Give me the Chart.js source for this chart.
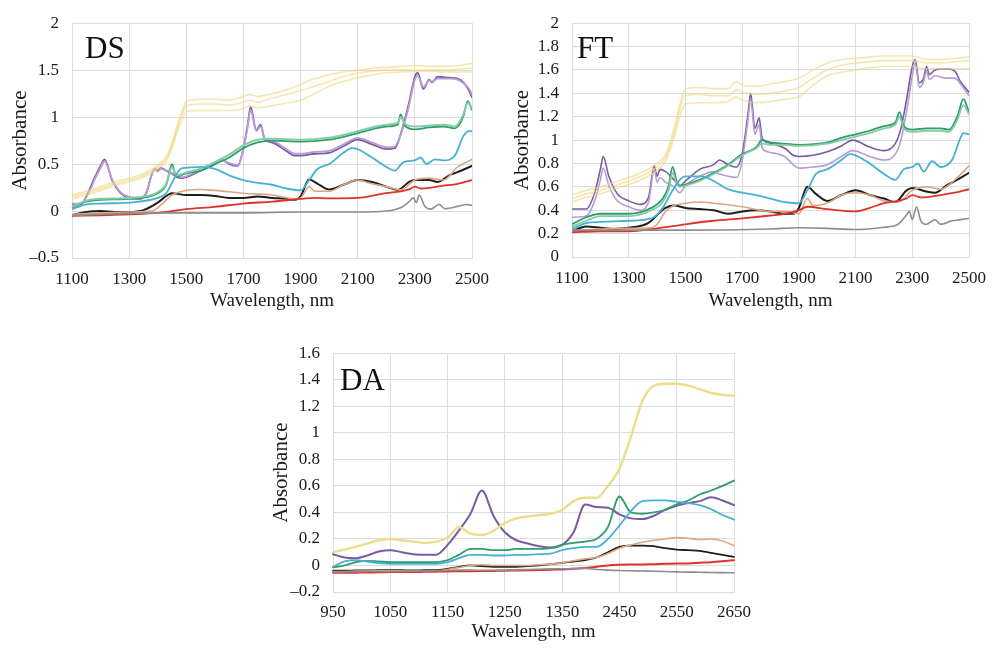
<!DOCTYPE html>
<html>
<head>
<meta charset="utf-8">
<script src="https://cdn.jsdelivr.net/npm/chart.js@4.4.1/dist/chart.umd.min.js"></script>
<style>
  html, body { margin: 0; padding: 0; background: #fff; }
  body { width: 997px; height: 648px; position: relative; overflow: hidden; }
  .panel { position: absolute; }
  .tag { position: absolute; font-family: 'Liberation Serif', serif; font-size: 31px; line-height: 31px; color: #111; }
</style>
</head>
<body>
<div class="panel" style="left:0;top:0;width:500px;height:315px"><canvas id="dsChart"></canvas></div>
<div class="panel" style="left:500px;top:0;width:497px;height:315px"><canvas id="ftChart"></canvas></div>
<div class="panel" style="left:261px;top:330px;width:500px;height:316px"><canvas id="daChart"></canvas></div>
<div class="tag" style="left:85px;top:32px">DS</div>
<div class="tag" style="left:577px;top:32px">FT</div>
<div class="tag" style="left:340px;top:364px">DA</div>
<script>
// ---- DS panel ----
const dsYellowNm = [1100,1150,1200,1250,1300,1350,1400,1430,1450,1470,1490,1500,1550,1600,1650,1700,1720,1750,1800,1850,1900,1950,2000,2050,2100,2150,2200,2250,2300,2350,2400,2450,2500];
const dsYellowA = [0.17,0.21,0.26,0.31,0.35,0.4,0.49,0.58,0.72,0.93,1.1,1.17,1.19,1.19,1.18,1.22,1.24,1.22,1.25,1.29,1.35,1.41,1.45,1.48,1.5,1.52,1.53,1.54,1.55,1.54,1.54,1.55,1.57];
const dsYellowB = [0.15,0.19,0.24,0.29,0.33,0.38,0.47,0.56,0.7,0.9,1.06,1.12,1.14,1.14,1.13,1.16,1.18,1.16,1.2,1.24,1.28,1.33,1.38,1.43,1.47,1.49,1.5,1.5,1.5,1.5,1.5,1.51,1.52];
const dsYellowC = [0.13,0.17,0.22,0.27,0.31,0.36,0.45,0.53,0.67,0.86,1.0,1.06,1.07,1.07,1.07,1.09,1.12,1.1,1.12,1.15,1.18,1.25,1.33,1.38,1.42,1.45,1.47,1.48,1.49,1.49,1.48,1.48,1.48];

const dsPurpleNm = [1100,1130,1160,1180,1200,1214,1240,1270,1300,1340,1360,1380,1390,1400,1410,1430,1460,1480,1500,1550,1600,1620,1650,1680,1700,1715,1725,1745,1760,1775,1800,1850,1880,1900,1950,2000,2050,2100,2150,2200,2230,2260,2280,2300,2310,2330,2350,2360,2380,2420,2450,2470,2490,2500];
const dsPurple = [0.07,0.07,0.22,0.36,0.48,0.55,0.33,0.19,0.14,0.13,0.19,0.4,0.45,0.43,0.46,0.43,0.38,0.35,0.36,0.43,0.5,0.55,0.5,0.48,0.67,0.92,1.11,0.86,0.92,0.76,0.73,0.64,0.59,0.59,0.61,0.62,0.69,0.76,0.71,0.66,0.67,0.92,1.16,1.43,1.47,1.3,1.4,1.37,1.43,1.42,1.41,1.37,1.28,1.21];
const dsPurpleLt = [0.08,0.08,0.2,0.34,0.46,0.53,0.34,0.2,0.15,0.14,0.2,0.39,0.44,0.42,0.45,0.43,0.39,0.36,0.37,0.44,0.51,0.55,0.51,0.49,0.66,0.9,1.08,0.85,0.9,0.77,0.75,0.66,0.61,0.61,0.63,0.64,0.71,0.78,0.73,0.68,0.69,0.9,1.13,1.4,1.44,1.32,1.39,1.38,1.41,1.41,1.4,1.36,1.3,1.24];

const dsGreenNm = [1100,1150,1200,1300,1400,1430,1450,1465,1480,1500,1550,1600,1650,1700,1750,1800,1900,2000,2050,2100,2150,2200,2240,2250,2265,2300,2350,2400,2440,2470,2485,2500];
const dsGreen = [0.035,0.1,0.12,0.13,0.19,0.28,0.5,0.36,0.38,0.4,0.43,0.5,0.57,0.67,0.73,0.75,0.74,0.76,0.79,0.83,0.87,0.9,0.92,1.03,0.91,0.87,0.89,0.9,0.88,1.01,1.17,1.08];
const dsGreenLt = [0.045,0.11,0.13,0.14,0.2,0.29,0.47,0.38,0.39,0.41,0.45,0.52,0.6,0.7,0.76,0.77,0.76,0.78,0.81,0.85,0.89,0.92,0.94,1.0,0.93,0.9,0.91,0.92,0.9,1.03,1.15,1.1];

const dsCyanNm = [1100,1150,1200,1300,1400,1430,1460,1480,1500,1550,1600,1650,1700,1750,1800,1850,1900,1930,1960,2000,2050,2080,2100,2150,2200,2230,2260,2300,2320,2340,2370,2400,2440,2470,2490,2500];
const dsCyan = [0.02,0.07,0.08,0.09,0.14,0.19,0.36,0.45,0.46,0.47,0.45,0.38,0.33,0.3,0.28,0.24,0.22,0.33,0.45,0.5,0.62,0.67,0.66,0.57,0.47,0.43,0.52,0.54,0.57,0.5,0.55,0.54,0.59,0.8,0.85,0.85];

const dsBlackNm = [1100,1150,1200,1250,1300,1350,1400,1430,1450,1500,1550,1600,1650,1700,1750,1800,1850,1880,1900,1930,1960,2000,2050,2100,2150,2200,2240,2280,2300,2350,2380,2420,2450,2500];
const dsBlack = [-0.045,-0.01,0.0,-0.01,-0.01,0.01,0.09,0.16,0.19,0.17,0.17,0.16,0.14,0.14,0.155,0.14,0.13,0.12,0.155,0.335,0.29,0.23,0.28,0.33,0.31,0.26,0.225,0.31,0.33,0.33,0.31,0.38,0.415,0.48];

const dsTanNm = [1100,1200,1300,1380,1420,1450,1500,1550,1600,1700,1800,1880,1900,1930,1950,2000,2050,2100,2150,2200,2250,2300,2350,2400,2450,2500];
const dsTan = [-0.035,-0.02,-0.01,0.0,0.09,0.17,0.22,0.23,0.22,0.19,0.17,0.13,0.14,0.26,0.21,0.21,0.28,0.33,0.29,0.26,0.225,0.33,0.35,0.33,0.47,0.55];

const dsRedNm = [1100,1200,1300,1400,1500,1600,1700,1800,1900,1950,2000,2100,2200,2250,2280,2300,2320,2400,2450,2500];
const dsRed = [-0.05,-0.045,-0.035,-0.02,0.02,0.045,0.08,0.1,0.13,0.14,0.135,0.14,0.19,0.21,0.23,0.26,0.24,0.27,0.29,0.33];

const dsGrayNm = [1100,1300,1500,1700,1900,2100,2200,2250,2280,2295,2305,2315,2335,2355,2385,2405,2450,2480,2500];
const dsGray = [-0.045,-0.025,-0.02,-0.02,-0.01,-0.01,0.0,0.035,0.1,0.14,0.09,0.17,0.05,0.02,0.07,0.025,0.05,0.07,0.06];

// ---- FT panel ----
const ftYellowNm = [1100,1150,1200,1250,1300,1350,1400,1430,1460,1480,1500,1550,1600,1650,1680,1700,1750,1800,1850,1900,1950,2000,2050,2100,2150,2200,2250,2300,2350,2400,2450,2500];
const ftYellowA = [0.53,0.57,0.6,0.64,0.68,0.73,0.8,0.88,1.1,1.3,1.44,1.45,1.44,1.44,1.5,1.47,1.46,1.48,1.5,1.53,1.6,1.66,1.69,1.7,1.71,1.72,1.72,1.72,1.69,1.69,1.7,1.71];
const ftYellowB = [0.5,0.54,0.57,0.61,0.65,0.7,0.77,0.85,1.06,1.26,1.38,1.39,1.38,1.38,1.43,1.41,1.39,1.4,1.42,1.45,1.53,1.6,1.64,1.66,1.67,1.68,1.68,1.68,1.66,1.66,1.67,1.68];
const ftYellowC = [0.47,0.51,0.54,0.58,0.62,0.67,0.74,0.82,1.02,1.2,1.31,1.32,1.32,1.33,1.37,1.34,1.32,1.33,1.35,1.37,1.47,1.55,1.58,1.6,1.62,1.63,1.63,1.63,1.61,1.61,1.61,1.61];

const ftPurpleNm = [1100,1150,1180,1200,1210,1230,1260,1300,1340,1370,1390,1400,1410,1430,1460,1480,1500,1550,1600,1620,1650,1680,1700,1720,1730,1745,1760,1770,1790,1850,1880,1900,1950,2000,2050,2090,2150,2200,2240,2260,2280,2300,2310,2325,2340,2350,2360,2380,2420,2450,2470,2500];
const ftPurple = [0.41,0.41,0.55,0.75,0.86,0.69,0.54,0.48,0.45,0.51,0.78,0.69,0.75,0.73,0.66,0.61,0.65,0.75,0.79,0.83,0.79,0.77,0.88,1.21,1.4,1.1,1.19,1.02,0.98,0.93,0.87,0.86,0.87,0.9,0.95,1.0,0.94,0.91,0.97,1.1,1.35,1.63,1.69,1.49,1.53,1.63,1.56,1.6,1.61,1.59,1.5,1.41];
const ftPurpleLt = [0.34,0.35,0.48,0.66,0.76,0.61,0.48,0.43,0.4,0.47,0.75,0.64,0.68,0.64,0.6,0.55,0.61,0.69,0.73,0.71,0.69,0.68,0.82,1.16,1.35,1.05,1.13,0.94,0.9,0.86,0.79,0.76,0.77,0.79,0.86,0.91,0.86,0.83,0.88,1.0,1.25,1.55,1.66,1.45,1.5,1.59,1.52,1.55,1.53,1.53,1.48,1.38];

const ftGreenNm = [1100,1150,1200,1300,1380,1420,1440,1455,1470,1480,1500,1550,1600,1650,1700,1750,1770,1800,1850,1900,2000,2050,2100,2150,2200,2240,2255,2270,2300,2350,2400,2430,2460,2480,2500];
const ftGreen = [0.28,0.34,0.37,0.37,0.42,0.5,0.6,0.77,0.64,0.61,0.62,0.66,0.72,0.79,0.88,0.94,1.0,0.98,0.97,0.96,0.98,1.02,1.05,1.08,1.12,1.15,1.24,1.12,1.09,1.1,1.1,1.09,1.21,1.35,1.24];
const ftGreenLt = [0.26,0.31,0.35,0.35,0.4,0.47,0.57,0.72,0.62,0.6,0.61,0.65,0.71,0.78,0.87,0.93,0.97,0.96,0.96,0.95,0.97,1.0,1.03,1.06,1.1,1.13,1.2,1.1,1.07,1.08,1.08,1.07,1.18,1.3,1.22];

const ftCyanNm = [1100,1150,1200,1300,1380,1420,1450,1480,1500,1560,1600,1650,1700,1750,1800,1850,1900,1930,1960,2000,2050,2080,2100,2150,2200,2240,2270,2300,2320,2340,2370,2400,2440,2470,2480,2500];
const ftCyan = [0.24,0.29,0.3,0.31,0.33,0.42,0.55,0.66,0.69,0.69,0.65,0.58,0.55,0.53,0.5,0.47,0.46,0.57,0.71,0.75,0.83,0.88,0.87,0.8,0.71,0.66,0.75,0.77,0.8,0.73,0.82,0.77,0.83,1.02,1.06,1.05];

const ftBlackNm = [1100,1150,1200,1250,1300,1360,1380,1400,1430,1460,1500,1550,1600,1650,1700,1750,1800,1850,1880,1900,1930,1960,2000,2050,2100,2150,2200,2240,2280,2300,2350,2380,2420,2450,2500];
const ftBlack = [0.22,0.26,0.25,0.24,0.25,0.28,0.31,0.36,0.42,0.44,0.42,0.41,0.4,0.37,0.39,0.4,0.39,0.37,0.37,0.42,0.6,0.54,0.48,0.53,0.57,0.53,0.5,0.47,0.57,0.59,0.56,0.55,0.61,0.65,0.72];

const ftTanNm = [1100,1200,1300,1380,1400,1430,1460,1500,1550,1600,1700,1800,1850,1900,1930,1950,2000,2050,2100,2150,2200,2250,2300,2350,2400,2450,2500];
const ftTan = [0.22,0.24,0.245,0.25,0.28,0.39,0.44,0.46,0.47,0.46,0.43,0.39,0.39,0.37,0.5,0.44,0.46,0.53,0.55,0.53,0.48,0.47,0.57,0.6,0.58,0.66,0.78];

const ftRedNm = [1100,1200,1300,1400,1500,1600,1700,1800,1850,1900,1930,2000,2100,2150,2200,2250,2280,2300,2330,2400,2450,2500];
const ftRed = [0.21,0.22,0.22,0.245,0.28,0.31,0.33,0.355,0.37,0.4,0.43,0.41,0.39,0.42,0.46,0.48,0.5,0.53,0.51,0.53,0.55,0.58];

const ftGrayNm = [1100,1300,1500,1800,1900,2000,2100,2200,2250,2280,2290,2300,2315,2330,2350,2380,2400,2440,2470,2500];
const ftGray = [0.23,0.23,0.23,0.24,0.25,0.245,0.235,0.255,0.28,0.36,0.39,0.32,0.43,0.31,0.28,0.32,0.28,0.31,0.32,0.33];

// ---- DA panel (category axis) ----
const daNm = [950,970,990,1010,1030,1050,1070,1090,1110,1130,1150,1170,1190,1210,1230,1250,1270,1290,1310,1330,1350,1370,1390,1410,1430,2450,2470,2490,2510,2530,2550,2570,2590,2610,2630,2650];
const daYellow = [0.10,0.12,0.14,0.165,0.19,0.20,0.19,0.18,0.17,0.18,0.21,0.29,0.24,0.23,0.26,0.32,0.355,0.37,0.38,0.39,0.42,0.485,0.51,0.51,0.60,0.73,0.97,1.24,1.355,1.37,1.37,1.355,1.33,1.30,1.285,1.28];
const daPurple = [0.085,0.06,0.055,0.075,0.105,0.115,0.10,0.085,0.08,0.08,0.155,0.265,0.39,0.565,0.375,0.25,0.19,0.165,0.145,0.135,0.155,0.25,0.46,0.44,0.435,0.385,0.355,0.35,0.375,0.42,0.45,0.47,0.485,0.515,0.49,0.455];
const daGreen = [-0.015,0.0,0.025,0.035,0.03,0.025,0.025,0.025,0.025,0.025,0.04,0.08,0.125,0.125,0.115,0.115,0.125,0.125,0.125,0.13,0.155,0.17,0.18,0.2,0.29,0.52,0.4,0.39,0.4,0.42,0.46,0.49,0.535,0.565,0.6,0.64];
const daCyan = [-0.01,0.03,0.04,0.03,0.017,0.012,0.012,0.012,0.012,0.012,0.025,0.055,0.08,0.08,0.075,0.075,0.08,0.08,0.085,0.09,0.115,0.13,0.14,0.14,0.2,0.3,0.41,0.485,0.49,0.49,0.48,0.47,0.455,0.425,0.38,0.345];
const daTan = [-0.045,-0.045,-0.043,-0.042,-0.041,-0.04,-0.041,-0.042,-0.041,-0.04,-0.03,-0.015,0.0,0.005,0.0,0.0,0.0,0.0,0.005,0.01,0.02,0.035,0.05,0.06,0.09,0.13,0.155,0.175,0.19,0.2,0.21,0.205,0.195,0.2,0.185,0.15];
const daBlack = [-0.04,-0.04,-0.038,-0.038,-0.036,-0.035,-0.036,-0.037,-0.036,-0.035,-0.025,-0.01,0.0,-0.005,-0.01,-0.01,-0.01,-0.005,0.0,0.01,0.02,0.03,0.04,0.06,0.1,0.14,0.15,0.15,0.145,0.13,0.12,0.115,0.11,0.095,0.08,0.065];
const daRed = [-0.055,-0.055,-0.054,-0.053,-0.052,-0.05,-0.05,-0.05,-0.048,-0.047,-0.045,-0.044,-0.043,-0.042,-0.041,-0.04,-0.038,-0.036,-0.035,-0.032,-0.03,-0.025,-0.02,-0.01,0.0,0.005,0.007,0.008,0.01,0.012,0.014,0.015,0.02,0.025,0.032,0.04];
const daGray = [-0.05,-0.048,-0.047,-0.046,-0.045,-0.045,-0.044,-0.043,-0.042,-0.04,-0.038,-0.035,-0.035,-0.036,-0.036,-0.035,-0.033,-0.03,-0.028,-0.026,-0.025,-0.024,-0.022,-0.03,-0.035,-0.038,-0.04,-0.042,-0.044,-0.046,-0.048,-0.05,-0.051,-0.053,-0.054,-0.055];

const C = {
    yellow: 'rgba(238, 214, 125, 0.6)',
    yellowDA: '#eedc8a',
    purple: '#7b5aa5',
    purpleLt: '#b79dd3',
    green: '#2f9d6c',
    greenLt: '#84cca2',
    cyan: '#45b2d5',
    tan: '#dba783',
    black: '#1e1e1e',
    red: '#df322d',
    gray: '#8d8d8d'
};
const SERIF = "'Liberation Serif', 'Times New Roman', serif";
const GRID = '#dcdcdc';

function xy(nm, ab) {
    return nm.map((x, i) => ({ x: x, y: ab[i] }));
}

function line(data, color, width) {
    return { data: data, borderColor: color, borderWidth: width, pointRadius: 0, fill: false };
}

function numLabel(v) {
    return String(Math.round(v * 10) / 10).replace('-', '\u2013');
}

function buildOptions(p) {
    return {
        responsive: true,
        maintainAspectRatio: false,
        animation: false,
        layout: { padding: { top: p.top, right: p.right, left: 0, bottom: 0 } },
        plugins: { legend: { display: false }, tooltip: { enabled: false } },
        elements: { line: { cubicInterpolationMode: 'monotone', borderJoinStyle: 'round', borderCapStyle: 'round' } },
        scales: {
            x: Object.assign({
                grid: { color: GRID, drawTicks: false },
                border: { color: GRID },
                title: { display: true, text: 'Wavelength, nm', color: '#1a1a1a', font: { family: SERIF, size: 19 }, padding: { top: 0, bottom: 3 } },
                afterFit: s => { s.height = p.xh; }
            }, p.x),
            y: {
                min: p.ymin, max: p.ymax,
                grid: { color: GRID, drawTicks: false },
                border: { color: GRID },
                ticks: { stepSize: p.ystep, autoSkip: false, padding: 13, color: '#1a1a1a', font: { family: SERIF, size: 17 }, callback: v => numLabel(v) },
                title: { display: true, text: 'Absorbance', color: '#1a1a1a', font: { family: SERIF, size: 21 }, padding: { top: p.tpad, bottom: 0 } },
                afterFit: s => { s.width = 72; }
            }
        }
    };
}

function wlAxis() {
    return {
        type: 'linear', min: 1100, max: 2500,
        ticks: { stepSize: 200, autoSkip: false, padding: 11, maxRotation: 0, color: '#1a1a1a', font: { family: SERIF, size: 17 }, callback: v => String(v) }
    };
}

new Chart(document.getElementById('dsChart'), {
    type: 'line',
    data: {
        datasets: [
            line(xy(dsYellowNm, dsYellowA), C.yellow, 1.6),
            line(xy(dsYellowNm, dsYellowB), C.yellow, 1.6),
            line(xy(dsYellowNm, dsYellowC), C.yellow, 1.6),
            line(xy(dsGrayNm, dsGray), C.gray, 1.6),
            line(xy(dsRedNm, dsRed), C.red, 1.8),
            line(xy(dsTanNm, dsTan), C.tan, 1.6),
            line(xy(dsCyanNm, dsCyan), C.cyan, 1.8),
            line(xy(dsGreenNm, dsGreenLt), C.greenLt, 2),
            line(xy(dsGreenNm, dsGreen), C.green, 1.8),
            line(xy(dsPurpleNm, dsPurpleLt), C.purpleLt, 1.8),
            line(xy(dsPurpleNm, dsPurple), C.purple, 1.8),
            line(xy(dsBlackNm, dsBlack), C.black, 2)
        ]
    },
    options: buildOptions({ top: 17, right: 25, xh: 57, ymin: -0.5, ymax: 2, ystep: 0.5, tpad: 8, x: wlAxis() })
});

new Chart(document.getElementById('ftChart'), {
    type: 'line',
    data: {
        datasets: [
            line(xy(ftYellowNm, ftYellowA), C.yellow, 1.6),
            line(xy(ftYellowNm, ftYellowB), C.yellow, 1.6),
            line(xy(ftYellowNm, ftYellowC), C.yellow, 1.6),
            line(xy(ftGrayNm, ftGray), C.gray, 1.6),
            line(xy(ftRedNm, ftRed), C.red, 1.8),
            line(xy(ftTanNm, ftTan), C.tan, 1.6),
            line(xy(ftCyanNm, ftCyan), C.cyan, 1.8),
            line(xy(ftGreenNm, ftGreenLt), C.greenLt, 1.8),
            line(xy(ftGreenNm, ftGreen), C.green, 1.8),
            line(xy(ftPurpleNm, ftPurpleLt), C.purpleLt, 1.6),
            line(xy(ftPurpleNm, ftPurple), C.purple, 1.6),
            line(xy(ftBlackNm, ftBlack), C.black, 2)
        ]
    },
    options: buildOptions({ top: 15, right: 20, xh: 58, ymin: 0, ymax: 2, ystep: 0.2, tpad: 10, x: wlAxis() })
});

new Chart(document.getElementById('daChart'), {
    type: 'line',
    data: {
        labels: daNm,
        datasets: [
            line(daYellow, C.yellowDA, 2.4),
            line(daGray, C.gray, 1.6),
            line(daRed, C.red, 2),
            line(daTan, C.tan, 1.6),
            line(daCyan, C.cyan, 1.8),
            line(daGreen, C.green, 1.8),
            line(daPurple, C.purple, 2),
            line(daBlack, C.black, 1.8)
        ]
    },
    options: buildOptions({
        top: 19, right: 24, xh: 54, ymin: -0.2, ymax: 1.6, ystep: 0.2, tpad: 8,
        x: {
            type: 'category', offset: false,
            ticks: {
                autoSkip: false, maxRotation: 0, padding: 10, color: '#1a1a1a', font: { family: SERIF, size: 17 },
                callback: (v, i) => (i % 5 === 0 ? String(daNm[i]) : null)
            }
        }
    })
});
</script>
</body>
</html>
